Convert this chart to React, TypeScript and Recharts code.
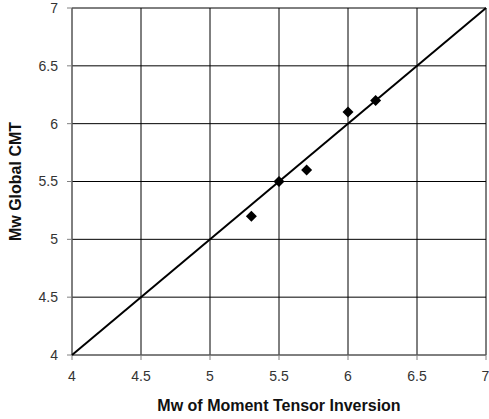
import { ScatterChart, Scatter, XAxis, YAxis, CartesianGrid } from "recharts";

const tensorMw = [5.3, 5.5, 5.7, 6.0, 6.2];
const cmtMw = [5.2, 5.5, 5.6, 6.1, 6.2];
const lineX = [4, 7];
const lineY = [4, 7];
const ticks = [4, 4.5, 5, 5.5, 6, 6.5, 7];

const points = tensorMw.map((x, i) => ({ x, y: cmtMw[i] }));
const linePoints = lineX.map((x, i) => ({ x, y: lineY[i] }));

const font = "Arial, 'Liberation Sans', sans-serif";
const tickStyle = { fontSize: 14, fill: "#333", fontFamily: font };
const titleStyle = { fontSize: 16, fontWeight: 700, fill: "#111", fontFamily: font };

// square diamond, same width and height
const Diamond = (props: any) => {
  const { cx, cy } = props;
  const r = 5.5;
  return <polygon points={`${cx},${cy - r} ${cx + r},${cy} ${cx},${cy + r} ${cx - r},${cy}`} fill="#000" />;
};

export default function App() {
  return (
    <div style={{ position: "absolute", left: 0, top: 0 }}>
      <ScatterChart width={489} height={419} margin={{ top: 8, right: 3, bottom: 34, left: 12 }}>
        <CartesianGrid stroke="#000" strokeWidth={1} />
        <XAxis
          type="number"
          dataKey="x"
          domain={[4, 7]}
          ticks={ticks}
          height={30}
          tick={tickStyle}
          tickSize={5}
          tickMargin={11}
          stroke="#808080"
          label={{ value: "Mw of Moment Tensor Inversion", position: "insideBottom", offset: -26, style: titleStyle }}
        />
        <YAxis
          type="number"
          dataKey="y"
          domain={[4, 7]}
          ticks={ticks}
          width={60}
          tick={tickStyle}
          tickSize={5}
          tickMargin={9}
          stroke="#808080"
          label={{ value: "Mw Global CMT", angle: -90, position: "insideLeft", offset: 3, style: { ...titleStyle, textAnchor: "middle" } }}
        />
        <Scatter data={linePoints} line={{ stroke: "#000", strokeWidth: 2 }} shape={() => null} isAnimationActive={false} />
        <Scatter data={points} shape={Diamond} isAnimationActive={false} />
      </ScatterChart>
    </div>
  );
}
